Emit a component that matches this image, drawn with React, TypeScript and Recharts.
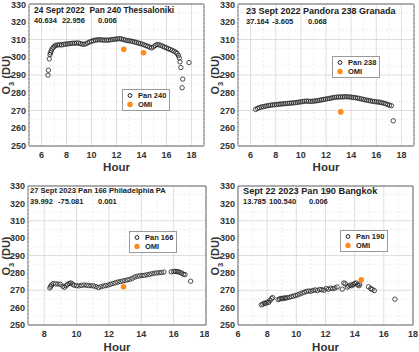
import {ScatterChart, Scatter, XAxis, YAxis, CartesianGrid, ReferenceLine, ReferenceArea} from 'recharts';

const FONT = 'Arial, "Liberation Sans", sans-serif';
const OMI_COLOR = '#ff8a1c';
const Y_TICKS = [250, 260, 270, 280, 290, 300, 310, 320, 330];
const Y_MINOR = [255, 265, 275, 285, 295, 305, 315, 325];

// Thessaloniki, 24 Sept 2022, Pan 240
const pan240Hour = [
  6.52, 6.55, 6.62, 6.68, 6.72, 6.78, 6.85, 6.95, 7.05, 7.15, 7.3, 7.45, 7.6, 7.75, 7.9, 8.05, 8.2, 8.35, 8.5, 8.65,
  8.8, 8.95, 9.1, 9.25, 9.4, 9.55, 9.7, 9.85, 10.0, 10.15, 10.3, 10.45, 10.6, 10.75, 10.9, 11.05, 11.2, 11.35, 11.5,
  11.65, 11.8, 11.95, 12.1, 12.25, 12.4, 12.55, 12.7, 12.85, 13.0, 13.15, 13.3, 13.45, 13.6, 13.75, 13.9, 14.05, 14.2,
  14.35, 14.5, 14.65, 14.8, 14.95, 15.1, 15.25, 15.4, 15.55, 15.7, 15.85, 16.0, 16.15, 16.3, 16.45, 16.6, 16.75, 16.85,
  16.95, 17.02, 17.08, 17.15, 17.25, 17.3, 17.8
];
const pan240O3 = [
  289.9, 292.7, 299.1, 301.5, 302.5, 303.6, 304.8, 305.6, 306.3, 306.8, 306.9, 307.1, 306.9, 307.2, 307.4, 307.5, 307.6,
  307.8, 307.9, 307.9, 308.0, 308.0, 307.7, 307.4, 307.3, 307.6, 308.1, 308.6, 309.0, 309.4, 309.6, 309.8, 309.9, 309.8,
  309.7, 309.6, 309.7, 309.6, 309.8, 310.0, 310.1, 310.2, 310.4, 310.5, 310.3, 310.0, 309.7, 309.4, 309.3, 309.1, 308.9,
  308.6, 308.3, 308.0, 307.7, 307.4, 307.0, 306.6, 306.2, 305.7, 305.3, 305.8, 306.6, 307.2, 307.0, 306.7, 306.2, 305.7,
  305.3, 304.8, 304.4, 303.9, 303.4, 302.8, 302.1, 301.0, 299.6, 297.4, 294.2, 282.8, 287.7, 297.0
];
const omi1Hour = [12.58, 14.16];
const omi1O3 = [304.5, 302.5];

// Granada, 23 Sept 2022, Pandora 238
const pan238Hour = [
  6.4, 6.55, 6.7, 6.85, 7.0, 7.15, 7.3, 7.45, 7.6, 7.75, 7.9, 8.05, 8.2, 8.35, 8.5, 8.65, 8.8, 8.95, 9.1, 9.25, 9.4,
  9.55, 9.7, 9.85, 10.0, 10.15, 10.3, 10.45, 10.6, 10.75, 10.9, 11.05, 11.2, 11.35, 11.5, 11.65, 11.8, 11.95, 12.1,
  12.25, 12.4, 12.55, 12.7, 12.85, 13.0, 13.15, 13.3, 13.45, 13.6, 13.75, 13.9, 14.05, 14.2, 14.35, 14.5, 14.65, 14.8,
  14.95, 15.1, 15.25, 15.4, 15.55, 15.7, 15.85, 16.0, 16.15, 16.3, 16.45, 16.6, 16.75, 16.9, 17.05, 17.2, 17.35
];
const pan238O3 = [
  270.6, 271.2, 271.6, 272.0, 272.1, 272.4, 272.6, 272.8, 273.0, 273.1, 273.3, 273.3, 273.5, 273.6, 273.7, 273.8, 273.9,
  274.0, 274.1, 274.2, 274.3, 274.4, 274.6, 274.7, 274.9, 275.0, 275.2, 275.3, 275.2, 275.1, 275.2, 275.3, 275.4, 275.6,
  275.8, 276.0, 276.2, 276.4, 276.6, 276.8, 277.0, 277.2, 277.4, 277.5, 277.6, 277.6, 277.7, 277.7, 277.8, 277.7, 277.6,
  277.5, 277.3, 277.2, 277.0, 276.8, 276.5, 276.3, 276.0, 275.8, 275.6, 275.4, 275.2, 275.0, 274.9, 274.8, 274.6, 274.4,
  274.1, 273.8, 273.4, 273.0, 272.7, 264.2
];
const omi2Hour = [13.18];
const omi2O3 = [269.2];

// Philadelphia PA, 27 Sept 2023, Pan 166
const pan166Hour = [
  8.35, 8.4, 8.45, 8.55, 8.7, 8.85, 9.0, 9.15, 9.25, 9.35, 9.45, 9.55, 9.65, 9.75, 9.85, 10.0, 10.15, 10.3, 10.45, 10.6,
  10.75, 10.9, 11.05, 11.2, 11.35, 11.5, 11.65, 11.8, 11.95, 12.1, 12.25, 12.4, 12.55, 12.7, 12.85, 13.0, 13.15, 13.3,
  13.45, 13.6, 13.75, 13.9, 14.05, 14.2, 14.35, 14.5, 14.65, 14.8, 14.95, 15.1, 15.25, 15.4, 15.85, 16.0, 16.1, 16.2,
  16.3, 16.4, 16.5, 16.6, 16.7, 17.05
];
const pan166O3 = [
  271.3, 272.2, 273.0, 273.8, 273.7, 273.6, 273.4, 272.3, 271.7, 272.6, 273.4, 273.9, 274.2, 273.5, 272.9, 272.6, 272.5,
  272.8, 273.0, 272.9, 272.7, 272.6, 272.5, 272.1, 271.6, 272.0, 272.4, 272.7, 273.0, 273.4, 273.9, 274.3, 274.7, 275.0,
  275.3, 275.6, 276.0, 276.3, 276.9, 277.6, 278.1, 278.3, 278.5, 278.6, 278.9, 279.2, 279.5, 279.8, 280.0, 280.1, 280.2,
  280.5, 280.6, 280.8, 280.9, 280.7, 280.6, 280.3, 279.8, 279.2, 279.0, 275.2
];
const omi3Hour = [12.9];
const omi3O3 = [272.0];

// Bangkok, Sept 22 2023, Pan 190
const pan190Hour = [
  7.6, 7.7, 7.8, 7.9, 8.0, 8.1, 8.2, 8.3, 8.38, 8.75, 8.85, 8.95, 9.05, 9.15, 9.25, 9.35, 9.5, 9.65, 9.8, 9.95, 10.1,
  10.25, 10.4, 10.55, 10.7, 10.85, 11.0, 11.15, 11.3, 11.45, 11.6, 11.75, 11.9, 12.05, 12.2, 12.35, 12.5, 12.65, 12.8,
  13.15, 13.25, 13.35, 13.5, 13.6, 13.7, 13.8, 13.9, 14.0, 14.1, 14.2, 14.3, 14.35, 14.95, 15.1, 15.2, 15.35, 16.76
];
const pan190O3 = [
  261.6, 262.0, 262.6, 262.4, 263.2, 263.0, 264.2, 265.2, 265.8, 264.6, 265.0, 265.3, 265.1, 265.6, 265.4, 265.7, 265.9,
  266.3, 266.6, 267.0, 267.4, 267.9, 268.4, 268.9, 269.3, 269.6, 269.4, 269.9, 270.2, 269.8, 270.5, 270.3, 270.0, 271.0,
  270.6, 271.2, 270.9, 271.3, 271.9, 270.6, 274.2, 273.7, 271.8, 272.4, 273.0, 272.6, 273.3, 273.9, 274.2, 273.1, 272.6,
  273.5, 272.0, 271.0, 270.5, 269.8, 264.9
];
const omi4Hour = [14.45];
const omi4O3 = [276.0];

const toPoints = (hours: number[], o3: number[]) => hours.map((x, i) => ({x, y: o3[i]}));

function PanCircle(props: any) {
  const {cx, cy} = props;
  if (cx == null || cy == null) return null;
  return <circle cx={cx} cy={cy} r={2.2} fill="none" stroke="#222" strokeWidth={0.8} />;
}

function OmiDot(props: any) {
  const {cx, cy} = props;
  if (cx == null || cy == null) return null;
  return <circle cx={cx} cy={cy} r={2.8} fill={OMI_COLOR} />;
}

type PanelProps = {
  left: number;
  top: number;
  width: number;
  height: number;
  margin: {top: number; right: number; bottom: number; left: number};
  xAxisHeight: number;
  yAxisWidth: number;
  xDomain: [number, number];
  xTicks: number[];
  xMinor: number[];
  pan: {x: number; y: number}[];
  omi: {x: number; y: number}[];
  title: string;
  titleSize: number;
  coords: string[];
  coordX: number[];
  textTop: number;
  panLabel: string;
  legend: {left: number; top: number};
  hourTop: number;
  ylabelCenter: number;
};

function Panel(p: PanelProps) {
  const tickStyle = {fontSize: 9, fontWeight: 700, fill: '#333', fontFamily: FONT};
  const plotLeft = p.margin.left + p.yAxisWidth;
  const plotRight = p.width - p.margin.right;
  const noteStyle = {
    position: 'absolute' as const,
    fontFamily: FONT,
    fontWeight: 700,
    color: '#222',
    lineHeight: '10px',
    whiteSpace: 'pre' as const
  };
  return (
    <div style={{position: 'absolute', left: p.left, top: p.top, width: p.width, height: p.height}}>
      <ScatterChart width={p.width} height={p.height} margin={p.margin}>
        <CartesianGrid stroke="#d6d6d6" strokeWidth={0.8} />
        {p.xMinor.map((v) => (
          <ReferenceLine key={'mx' + v} x={v} stroke="#e6e6e6" strokeWidth={0.7} strokeDasharray="2 2" />
        ))}
        {Y_MINOR.map((v) => (
          <ReferenceLine key={'my' + v} y={v} stroke="#e6e6e6" strokeWidth={0.7} strokeDasharray="2 2" />
        ))}
        <XAxis
          type="number"
          dataKey="x"
          domain={p.xDomain}
          ticks={p.xTicks}
          allowDataOverflow
          height={p.xAxisHeight}
          axisLine={false}
          tickLine={false}
          tickSize={5}
          tickMargin={1}
          tick={tickStyle}
        />
        <YAxis
          type="number"
          dataKey="y"
          domain={[250, 330]}
          ticks={Y_TICKS}
          allowDataOverflow
          width={p.yAxisWidth}
          axisLine={false}
          tickLine={false}
          tickSize={2}
          tickMargin={1}
          tick={tickStyle}
        />
        <ReferenceArea x1={p.xDomain[0]} x2={p.xDomain[1]} y1={250} y2={330} fill="none" stroke="#6a6a6a" strokeWidth={1} />
        <Scatter data={p.pan} shape={PanCircle} isAnimationActive={false} />
        <Scatter data={p.omi} shape={OmiDot} isAnimationActive={false} />
      </ScatterChart>

      <div style={{...noteStyle, fontSize: p.titleSize, left: p.coordX[0], top: p.textTop}}>{p.title}</div>
      {p.coords.map((c, i) => (
        <div key={c} style={{...noteStyle, fontSize: 7.5, left: p.coordX[i], top: p.textTop + 11}}>
          {c}
        </div>
      ))}

      <div
        style={{
          position: 'absolute',
          left: p.legend.left,
          top: p.legend.top,
          border: '1px solid #9a9a9a',
          background: '#fff',
          fontFamily: FONT,
          fontWeight: 700,
          fontSize: 7.5,
          color: '#222',
          padding: '1px 3px 1px 2px',
          lineHeight: '9px',
          whiteSpace: 'nowrap'
        }}
      >
        <div style={{display: 'flex', alignItems: 'center'}}>
          <svg width={10} height={9}>
            <circle cx={5} cy={4.5} r={1.9} fill="none" stroke="#222" strokeWidth={1} />
          </svg>
          <span style={{marginLeft: 3}}>{p.panLabel}</span>
        </div>
        <div style={{display: 'flex', alignItems: 'center'}}>
          <svg width={10} height={9}>
            <circle cx={5} cy={4.5} r={2.7} fill={OMI_COLOR} />
          </svg>
          <span style={{marginLeft: 3}}>OMI</span>
        </div>
      </div>

      <div
        style={{
          position: 'absolute',
          left: plotLeft,
          width: plotRight - plotLeft,
          top: p.hourTop,
          textAlign: 'center',
          fontFamily: FONT,
          fontWeight: 700,
          fontSize: 11.5,
          lineHeight: '12px',
          color: '#333'
        }}
      >
        Hour
      </div>

      <div
        style={{
          position: 'absolute',
          left: 8,
          top: p.ylabelCenter,
          transform: 'translate(-50%, -50%) rotate(-90deg)',
          fontFamily: FONT,
          fontWeight: 700,
          fontSize: 11,
          color: '#333',
          whiteSpace: 'nowrap'
        }}
      >
        O<sub style={{fontSize: 7.5}}>3</sub> (DU)
      </div>
    </div>
  );
}

export default function App() {
  return (
    <div style={{position: 'fixed', left: 0, top: 0, width: 419, height: 352, background: '#fff', overflow: 'hidden'}}>
      <Panel
        left={0}
        top={0}
        width={209}
        height={176}
        margin={{top: 4, right: 5, bottom: 0, left: 0}}
        xAxisHeight={30}
        yAxisWidth={29}
        xDomain={[5, 19]}
        xTicks={[6, 8, 10, 12, 14, 16, 18]}
        xMinor={[5, 7, 9, 11, 13, 15, 17, 19]}
        pan={toPoints(pan240Hour, pan240O3)}
        omi={toPoints(omi1Hour, omi1O3)}
        title={'24 Sept 2022  Pan 240 Thessaloniki'}
        titleSize={8.4}
        coords={['40.634', '22.956', '0.006']}
        coordX={[34, 62, 98]}
        textTop={5}
        panLabel="Pan 240"
        legend={{left: 122, top: 89}}
        hourTop={161}
        ylabelCenter={75}
      />
      <Panel
        left={209}
        top={0}
        width={210}
        height={176}
        margin={{top: 4, right: 5, bottom: 0, left: 0}}
        xAxisHeight={30}
        yAxisWidth={29}
        xDomain={[5, 19]}
        xTicks={[6, 8, 10, 12, 14, 16, 18]}
        xMinor={[5, 7, 9, 11, 13, 15, 17, 19]}
        pan={toPoints(pan238Hour, pan238O3)}
        omi={toPoints(omi2Hour, omi2O3)}
        title={'23 Sept 2022 Pandora 238 Granada'}
        titleSize={9}
        coords={['37.164', '-3.605', '0.068']}
        coordX={[37, 63, 99]}
        textTop={6}
        panLabel="Pan 238"
        legend={{left: 123, top: 56}}
        hourTop={161}
        ylabelCenter={75}
      />
      <Panel
        left={0}
        top={176}
        width={209}
        height={176}
        margin={{top: 10, right: 3, bottom: 0, left: 0}}
        xAxisHeight={27}
        yAxisWidth={28}
        xDomain={[7, 18]}
        xTicks={[8, 10, 12, 14, 16, 18]}
        xMinor={[7, 9, 11, 13, 15, 17]}
        pan={toPoints(pan166Hour, pan166O3)}
        omi={toPoints(omi3Hour, omi3O3)}
        title={'27 Sept 2023 Pan 166 Philadelphia PA'}
        titleSize={7.6}
        coords={['39.992', '-75.081', '0.001']}
        coordX={[30, 58, 98]}
        textTop={10}
        panLabel="Pan 166"
        legend={{left: 129, top: 55}}
        hourTop={165}
        ylabelCenter={80}
      />
      <Panel
        left={209}
        top={176}
        width={210}
        height={176}
        margin={{top: 10, right: 6, bottom: 0, left: 0}}
        xAxisHeight={27}
        yAxisWidth={29}
        xDomain={[6, 18]}
        xTicks={[6, 8, 10, 12, 14, 16, 18]}
        xMinor={[7, 9, 11, 13, 15, 17]}
        pan={toPoints(pan190Hour, pan190O3)}
        omi={toPoints(omi4Hour, omi4O3)}
        title={'Sept 22 2023 Pan 190 Bangkok'}
        titleSize={9.2}
        coords={['13.785', '100.540', '0.006']}
        coordX={[34, 60, 100]}
        textTop={10}
        panLabel="Pan 190"
        legend={{left: 131, top: 54}}
        hourTop={165}
        ylabelCenter={80}
      />
    </div>
  );
}
